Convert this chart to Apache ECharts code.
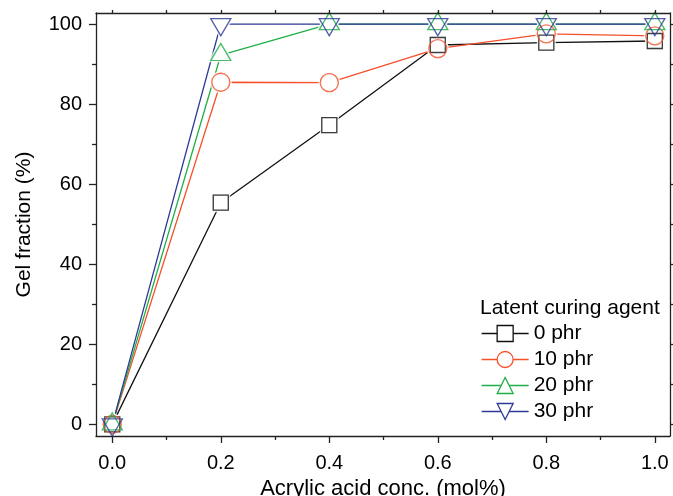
<!DOCTYPE html>
<html>
<head>
<meta charset="utf-8">
<script src="https://cdn.jsdelivr.net/npm/echarts@6/dist/echarts.min.js"></script>
<style>
  html, body { margin: 0; padding: 0; background: #fff; }
  #main { width: 673px; height: 496px; }
</style>
</head>
<body>
<div id="main"></div>
<script>
var myChart = echarts.init(document.getElementById('main'));

// acrylic acid conc. (mol%)
var acid = [0, 0.2, 0.4, 0.6, 0.8, 1.0];
// gel fraction (%) for each amount of latent curing agent
var phr0 = [0, 55.4, 74.8, 94.8, 95.4, 95.8];
var phr10 = [0, 85.5, 85.4, 93.9, 97.6, 97.1];
var phr20 = [0, 92.3, 100, 100, 100, 100];
var phr30 = [0, 100, 100, 100, 100, 100];
var names = ['0 phr', '10 phr', '20 phr', '30 phr'];

var xMajor = [0, 0.2, 0.4, 0.6, 0.8, 1.0];
var xMinor = [0.1, 0.3, 0.5, 0.7, 0.9];
var yMajor = [0, 20, 40, 60, 80, 100];
var yMinor = [10, 30, 50, 70, 90];

var font = 'Liberation Sans';
var axisColor = '#222';

// look of each set: colour, marker shape, size, rotation, offset
var looks = [
    { color: '#111111', symbol: 'rect', size: 15, rotate: 0, offset: [0, 0] },
    { color: '#F5502A', symbol: 'circle', size: 18, rotate: 0, offset: [0, 0] },
    { color: '#1FAF48', symbol: 'triangle', size: [20, 17], rotate: 0, offset: [0, -3] },
    { color: '#2E3A96', symbol: 'triangle', size: [20, 17], rotate: 180, offset: [0, 3] }
];
var sets = [phr0, phr10, phr20, phr30];

function pairs(vals) {
    return acid.map(function (x, i) { return [x, vals[i]]; });
}

var series = [];
// lines
sets.forEach(function (vals, i) {
    var lk = looks[i];
    series.push({
        name: names[i],
        type: 'line',
        z: 2,
        data: pairs(vals),
        symbol: lk.symbol,
        symbolSize: lk.size,
        symbolRotate: lk.rotate,
        symbolOffset: lk.offset,
        color: lk.color,
        lineStyle: { color: lk.color, width: 1.3 },
        itemStyle: { color: '#fff', borderColor: lk.color, borderWidth: 1.3 },
        emphasis: { disabled: true },
        silent: true
    });
});
// white masks so the lines stop short of the markers
sets.forEach(function (vals, i) {
    var lk = looks[i];
    series.push({
        name: 'mask' + i,
        type: 'scatter',
        z: 3,
        data: pairs(vals),
        symbol: lk.symbol,
        symbolSize: lk.size,
        symbolRotate: lk.rotate,
        symbolOffset: lk.offset,
        itemStyle: { color: '#fff', borderColor: '#fff', borderWidth: 4 },
        emphasis: { disabled: true },
        silent: true
    });
});
// hollow markers on top
sets.forEach(function (vals, i) {
    var lk = looks[i];
    series.push({
        name: 'mark' + i,
        type: 'scatter',
        z: 4,
        data: pairs(vals),
        symbol: lk.symbol,
        symbolSize: lk.size,
        symbolRotate: lk.rotate,
        symbolOffset: lk.offset,
        itemStyle: { color: 'rgba(0,0,0,0)', borderColor: lk.color, borderWidth: 1.3 },
        emphasis: { disabled: true },
        silent: true
    });
});

function plainAxis(extra) {
    var a = {
        type: 'value',
        gridIndex: 0,
        z: 10,
        splitLine: { show: false },
        axisLine: { show: false, onZero: false, lineStyle: { color: axisColor, width: 1.3 } },
        axisTick: { show: false },
        axisLabel: { show: false }
    };
    return Object.assign(a, extra);
}

var xRange = { min: -0.03, max: 1.028 };
var yRange = { min: -2.9, max: 102.8 };

var option = {
    animation: false,
    backgroundColor: '#fff',
    textStyle: { fontFamily: font },
    title: {
        text: 'Latent curing agent',
        left: 480,
        top: 298,
        padding: 0,
        textStyle: { fontFamily: font, fontSize: 21, fontWeight: 'normal', color: '#000' }
    },
    legend: {
        data: names,
        orient: 'vertical',
        left: 481,
        top: 323,
        itemWidth: 47,
        itemHeight: 20,
        itemGap: 5,
        padding: 0,
        selectedMode: false,
        textStyle: { fontFamily: font, fontSize: 21, color: '#000' },
        lineStyle: { width: 1.3 },
        itemStyle: { borderWidth: 1.3 }
    },
    grid: { left: 96, right: 3, top: 13, bottom: 60, containLabel: false, outerBoundsMode: 'none' },
    xAxis: [
        plainAxis(Object.assign({
            position: 'bottom',
            axisLine: { show: true, onZero: false, lineStyle: { color: axisColor, width: 1.3 } },
            axisTick: { show: true, length: 7, customValues: xMajor, lineStyle: { color: axisColor, width: 1.3 } },
            axisLabel: {
                show: true, customValues: xMajor, margin: 17,
                fontSize: 20, fontFamily: font, color: '#000',
                formatter: function (v) { return v.toFixed(1); }
            },
            name: 'Acrylic acid conc. (mol%)',
            nameLocation: 'middle',
            nameGap: 39,
            nameTextStyle: { fontSize: 22, fontFamily: font, color: '#000' }
        }, xRange)),
        plainAxis(Object.assign({
            position: 'bottom',
            axisTick: { show: true, length: 4, customValues: xMinor, lineStyle: { color: axisColor, width: 1.3 } }
        }, xRange)),
        plainAxis(Object.assign({
            position: 'top',
            axisLine: { show: true, onZero: false, lineStyle: { color: axisColor, width: 1.3 } },
            axisTick: { show: true, length: 3, customValues: xMajor.concat(xMinor), lineStyle: { color: axisColor, width: 1.3 } }
        }, xRange))
    ],
    yAxis: [
        plainAxis(Object.assign({
            position: 'left',
            axisLine: { show: true, onZero: false, lineStyle: { color: axisColor, width: 1.3 } },
            axisTick: { show: true, length: 7, customValues: yMajor, lineStyle: { color: axisColor, width: 1.3 } },
            axisLabel: {
                show: true, customValues: yMajor, margin: 14,
                fontSize: 20, fontFamily: font, color: '#000'
            },
            name: 'Gel fraction (%)',
            nameLocation: 'middle',
            nameGap: 61,
            nameTextStyle: { fontSize: 21, fontFamily: font, color: '#000' }
        }, yRange)),
        plainAxis(Object.assign({
            position: 'left',
            axisTick: { show: true, length: 4, customValues: yMinor, lineStyle: { color: axisColor, width: 1.3 } }
        }, yRange)),
        plainAxis(Object.assign({
            position: 'right',
            axisLine: { show: true, onZero: false, lineStyle: { color: axisColor, width: 1.3 } },
            axisTick: { show: true, length: 3, customValues: yMajor.concat(yMinor), lineStyle: { color: axisColor, width: 1.3 } }
        }, yRange))
    ],
    series: series.map(function (s) {
        return Object.assign(s, { xAxisIndex: 0, yAxisIndex: 0 });
    })
};

myChart.setOption(option);
</script>
</body>
</html>
